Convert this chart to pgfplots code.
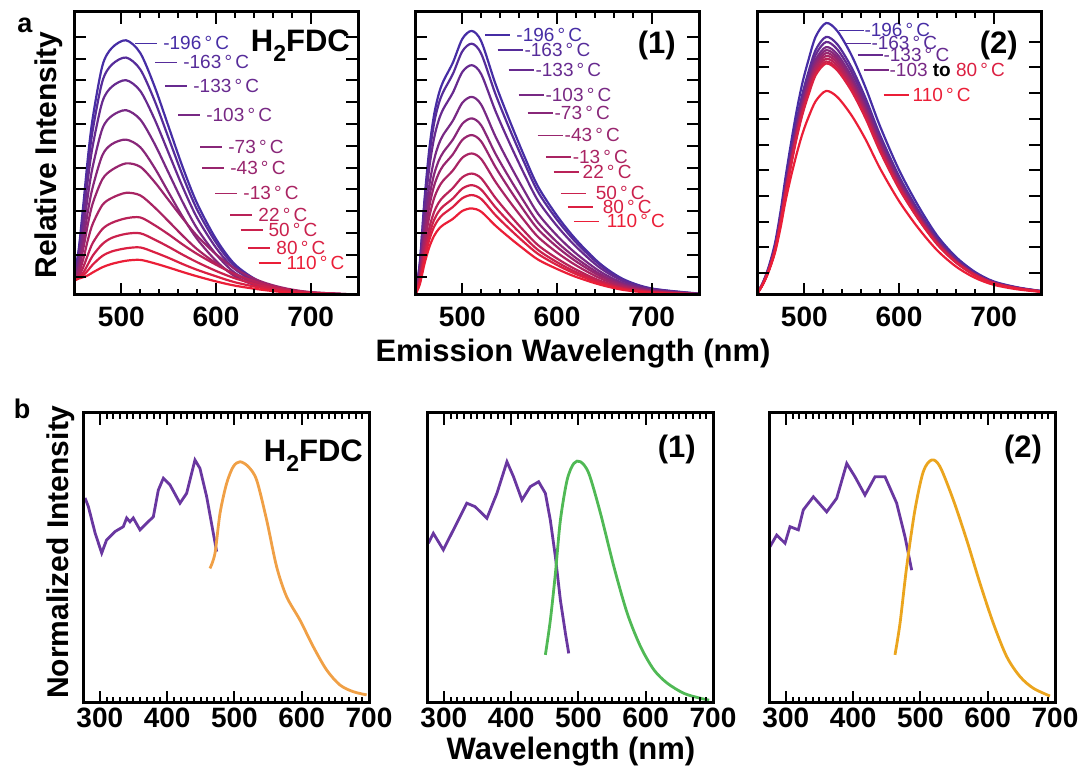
\documentclass[border=0pt]{standalone}
\usepackage{pgfplots}
\pgfplotsset{compat=1.18}
\usepackage{pgfplotstable}
\usepackage{fontspec}
\setmainfont{Liberation Sans}
\definecolor{cold}{RGB}{70,45,165}
\definecolor{hot}{RGB}{235,30,55}
\colorlet{c0}{cold}
\colorlet{c1}{hot!10!cold}
\colorlet{c2}{hot!20!cold}
\colorlet{c3}{hot!30!cold}
\colorlet{c4}{hot!40!cold}
\colorlet{c5}{hot!50!cold}
\colorlet{c6}{hot!60!cold}
\colorlet{c7}{hot!70!cold}
\colorlet{c8}{hot!80!cold}
\colorlet{c9}{hot!90!cold}
\colorlet{c10}{hot}
\definecolor{exc}{RGB}{105,55,160}
\definecolor{orA}{RGB}{240,160,70}
\definecolor{grB}{RGB}{80,185,85}
\definecolor{goC}{RGB}{235,165,30}
\newcommand{\labfont}{\fontsize{19}{19}\selectfont}
\newcommand{\ticfont}{\bfseries\fontsize{28}{28}\selectfont}
\newcommand{\panfont}{\bfseries\fontsize{31}{31}\selectfont}
\newcommand{\lab}[6]{\node[anchor=west,inner sep=0pt,text=#3,font=\labfont] at (axis cs:#1,#2) {\rule[0.3em]{#4}{1.4pt}\hspace{#5}#6};}
\newcommand{\HFDC}{H\raisebox{-0.32em}{\fontsize{23}{23}\selectfont 2}FDC}

\pgfplotstableread{
x   t0   t1   t2   t3   t4   t5   t6   t7   t8   t9   t10
450 6.3  6.0  6.0  6.0  5.8  5.5  5.0  5.0  5.0  5.0  5.0
455 16.2 15.1 13.7 11.8 9.9  9.0  7.5  6.6  6.2  6.0  5.8
460 32.4 30.2 27.3 23.5 19.8 16.7 13.0 10.0 8.0  7.0  6.3
465 49.5 46.1 41.7 35.9 30.2 25.6 19.9 14.5 11.0 8.8  7.0
470 63.0 58.7 53.1 45.7 38.4 32.6 25.3 18.5 14.0 10.8 8.0
480 81.0 75.5 68.3 58.8 49.4 40.9 31.8 23.3 18.0 13.8 9.8
490 87.3 81.4 73.6 63.3 53.3 44.2 34.3 25.5 20.2 15.4 11.0
505 90.0 83.9 75.9 65.3 54.9 46.5 36.1 27.1 21.6 16.5 12.1
520 85.5 79.7 72.1 62.0 52.2 45.3 35.2 27.4 21.8 16.8 12.4
535 73.8 68.8 62.2 53.5 45.0 40.0 31.0 24.7 19.6 15.1 11.2
550 59.4 55.4 50.1 43.1 36.2 33.5 26.0 21.4 17.0 13.1 9.7
565 45.0 42.0 38.0 32.7 27.5 27.0 20.9 17.8 14.2 10.9 8.1
580 32.4 30.2 27.3 23.5 19.8 20.9 16.2 14.5 11.6 8.9  6.6
600 19.8 18.5 16.7 14.4 12.1 14.4 11.2 10.7 8.5  6.6  4.8
620 10.8 10.1 9.1  7.8  6.6  9.3  7.2  7.4  5.9  4.5  3.3
645 4.95 4.6  4.2  3.6  3.0  5.1  4.0  4.4  3.5  2.7  2.0
670 2.16 2.0  1.8  1.6  1.3  2.6  2.0  2.3  1.9  1.4  1.05
700 0.81 0.76 0.68 0.59 0.49 1.0  0.8  0.96 0.76 0.59 0.43
750 0.09 0.08 0.08 0.07 0.05 0.14 0.1  0.14 0.11 0.08 0.06
}\taba

\pgfplotstableread{
x   t0   t1   t2   t3   t4   t5   t6   t7   t8   t9   t10
450 0    0    0    0    0    0    0    0    0    0    0
455 11.2 10.7 9.7  8.4  7.5  6.8  6.0  5.1  4.7  4.2  3.7
460 33.6 32.0 29.2 25.2 22.5 20.3 18.0 15.4 14.0 12.7 11.0
465 51.3 48.8 44.7 38.5 34.3 31.1 27.5 23.6 21.3 19.4 16.8
470 63.4 60.4 55.2 47.6 42.4 38.4 34.0 29.2 26.4 24.0 20.8
475 70.9 67.5 61.7 53.2 47.4 42.9 38.0 32.6 29.5 26.8 23.3
480 75.6 71.9 65.8 56.7 50.5 45.8 40.5 34.7 31.4 28.6 24.8
490 82.1 78.1 71.5 61.6 54.9 49.7 44.0 37.8 34.1 31.1 26.9
500 90.5 86.1 78.8 67.9 60.5 54.8 48.5 41.6 37.6 34.2 29.7
510 93.3 88.8 81.2 70.0 62.4 56.5 50.0 42.9 38.8 35.3 30.6
520 89.6 85.2 78.0 67.2 59.9 54.2 48.0 41.2 37.2 33.9 29.4
535 74.6 71.0 65.0 56.0 49.9 45.2 40.0 34.3 31.0 28.2 24.5
550 61.6 58.6 53.6 46.2 41.2 37.3 33.0 28.3 25.6 23.3 20.2
565 49.4 47.1 43.0 37.1 33.1 29.9 26.5 22.7 20.6 18.7 16.2
580 38.3 36.4 33.3 28.7 25.6 23.2 20.5 17.6 15.9 14.5 12.5
600 28.0 26.6 24.4 21.0 18.7 17.0 15.0 12.9 11.6 10.6 9.2
620 19.6 18.6 17.1 14.7 13.1 11.9 10.5 9.0  8.1  7.4  6.4
645 11.2 10.7 9.7  8.4  7.5  6.8  6.0  5.1  4.7  4.2  3.7
670 5.6  5.3  4.9  4.2  3.7  3.4  3.0  2.6  2.3  2.1  1.8
700 2.3  2.2  2.0  1.8  1.6  1.4  1.3  1.1  1.0  0.9  0.8
750 0.5  0.4  0.4  0.4  0.3  0.3  0.3  0.2  0.2  0.2  0.2
}\tabb

\pgfplotstableread{
x   t0   t1   t2   t3   t4   t5   t6   t7   t8   t9   t10
450 0.5  0.5  0.4  0.4  0.4  0.4  0.4  0.4  0.4  0.4  0.4
456 4.3  4.1  4.0  3.9  3.9  3.8  3.8  3.8  3.7  3.7  3.6
462 9.6  9.1  8.9  8.8  8.7  8.6  8.5  8.4  8.3  8.2  8.0
469 18.3 17.3 17.0 16.6 16.4 16.2 16.1 15.9 15.7 15.5 15.0
475 29.8 28.3 27.7 27.2 26.8 26.5 26.2 25.9 25.6 25.4 24.0
480 41.3 39.2 38.4 37.7 37.2 36.8 36.3 35.9 35.5 35.2 33.0
486 53.8 51.1 50.1 49.1 48.4 47.9 47.3 46.8 46.2 45.8 42.0
492 65.3 62.0 60.8 59.6 58.8 58.1 57.5 56.8 56.1 55.6 50.0
498 75.0 71.1 69.7 68.3 67.5 66.7 65.9 65.1 64.4 63.8 57.0
504 82.6 78.4 76.9 75.3 74.4 73.5 72.7 71.8 71.0 70.3 62.5
512 91.3 86.6 84.9 83.2 82.2 81.2 80.3 79.3 78.4 77.7 68.5
523 96.1 91.2 89.4 87.6 86.5 85.5 84.5 83.5 82.5 81.8 72.1
535 93.2 88.5 86.7 85.0 83.9 82.9 82.0 81.0 80.0 79.3 69.9
550 84.6 80.3 78.7 77.1 76.1 75.2 74.4 73.5 72.6 72.0 63.4
565 73.0 69.3 67.9 66.6 65.7 65.0 64.2 63.5 62.7 62.2 54.8
580 59.6 56.5 55.4 54.3 53.6 53.0 52.4 51.8 51.2 50.7 44.7
600 44.2 42.0 41.1 40.3 39.8 39.3 38.9 38.4 38.0 37.6 33.2
620 31.7 30.1 29.5 28.9 28.5 28.2 27.9 27.6 27.2 27.0 23.8
640 21.1 20.1 19.7 19.3 19.0 18.8 18.6 18.4 18.2 18.0 15.9
660 13.5 12.8 12.5 12.3 12.1 12.0 11.8 11.7 11.6 11.5 10.1
680 8.2  7.8  7.6  7.4  7.4  7.3  7.2  7.1  7.0  7.0  6.1
700 4.8  4.6  4.5  4.4  4.3  4.3  4.2  4.2  4.1  4.1  3.6
725 2.7  2.6  2.5  2.5  2.4  2.4  2.4  2.3  2.3  2.3  2.0
750 1.4  1.4  1.3  1.3  1.3  1.3  1.3  1.3  1.2  1.2  1.1
}\tabc

\pgfplotsset{
  base/.style={scale only axis, anchor=south west, axis on top, clip mode=individual,
    axis line style={line width=3pt},
    tick style={line width=2pt, black},
    major tick length=12pt, minor tick length=6pt, tick align=inside,
    /pgf/number format/assume math mode=true,
    xticklabel style={font=\ticfont, inner sep=0pt, anchor=north},
    yticklabels={}, ymin=0, ymax=100, no markers},
  toprow/.style={base, width=284pt, height=283pt, xmin=450, xmax=750,
    xtick={500,600,700}, xticklabels={500,600,700}, minor x tick num=4,
    xticklabel style={yshift=-12pt},
    every axis plot/.append style={line width=2.2pt, smooth}},
  botrow/.style={base, width=286pt, height=290pt, xmin=275, xmax=700,
    xtick={300,400,500,600,700}, xticklabels={300,400,500,600,700}, minor x tick num=9,
    ytick=\empty, xticklabel style={yshift=-5pt},
    every axis plot/.append style={line width=2.8pt}},
}

\begin{document}
\begin{tikzpicture}
\useasboundingbox (0,0) rectangle (1084pt,767pt);

% ---------- a1 ----------
\begin{axis}[toprow, at={(74pt,472pt)},
  ytick={6.5,14.2,21.9,29.6,37.3,45,52.7,60.4,68.1,75.8,83.5,91.2}]
\addplot[c0] table[x=x,y=t0]{\taba};
\addplot[c1] table[x=x,y=t1]{\taba};
\addplot[c2] table[x=x,y=t2]{\taba};
\addplot[c3] table[x=x,y=t3]{\taba};
\addplot[c4] table[x=x,y=t4]{\taba};
\addplot[c5] table[x=x,y=t5]{\taba};
\addplot[c6] table[x=x,y=t6]{\taba};
\addplot[c7] table[x=x,y=t7]{\taba};
\addplot[c8] table[x=x,y=t8]{\taba};
\addplot[c9] table[x=x,y=t9]{\taba};
\addplot[c10] table[x=x,y=t10]{\taba};
\lab{514.6}{89.0}{c0}{22pt}{6pt}{-196\,°\,C}
\lab{535.7}{82.3}{c1}{22pt}{6pt}{-163\,°\,C}
\lab{546.3}{73.9}{c2}{22pt}{6pt}{-133\,°\,C}
\lab{560.0}{63.6}{c3}{22pt}{6pt}{-103\,°\,C}
\lab{583.3}{52.3}{c4}{22pt}{6pt}{-73\,°\,C}
\lab{585.4}{44.9}{c5}{22pt}{6pt}{-43\,°\,C}
\lab{599.2}{36.0}{c6}{22pt}{6pt}{-13\,°\,C}
\lab{615.1}{28.3}{c7}{22pt}{6pt}{22\,°\,C}
\lab{625.7}{23.0}{c8}{22pt}{6pt}{50\,°\,C}
\lab{634.1}{16.6}{c9}{22pt}{6pt}{80\,°\,C}
\lab{644.7}{11.3}{c10}{22pt}{6pt}{110\,°\,C}
\node[anchor=north east, inner sep=0pt, font=\panfont] at (rel axis cs:0.972,0.936) {\HFDC};
\end{axis}

% ---------- a2 ----------
\begin{axis}[toprow, at={(415pt,472pt)},
  ytick={6.5,14.2,21.9,29.6,37.3,45,52.7,60.4,68.1,75.8,83.5,91.2}]
\addplot[c0] table[x=x,y=t0]{\tabb};
\addplot[c1] table[x=x,y=t1]{\tabb};
\addplot[c2] table[x=x,y=t2]{\tabb};
\addplot[c3] table[x=x,y=t3]{\tabb};
\addplot[c4] table[x=x,y=t4]{\tabb};
\addplot[c5] table[x=x,y=t5]{\tabb};
\addplot[c6] table[x=x,y=t6]{\tabb};
\addplot[c7] table[x=x,y=t7]{\tabb};
\addplot[c8] table[x=x,y=t8]{\tabb};
\addplot[c9] table[x=x,y=t9]{\tabb};
\addplot[c10] table[x=x,y=t10]{\tabb};
\lab{524.2}{91.9}{c0}{25pt}{6pt}{-196\,°\,C}
\lab{537.0}{86.6}{c1}{25pt}{2pt}{-163\,°\,C}
\lab{548.6}{79.5}{c2}{25pt}{2pt}{-133\,°\,C}
\lab{559.2}{70.7}{c3}{25pt}{2pt}{-103\,°\,C}
\lab{568.8}{64.3}{c4}{25pt}{2pt}{-73\,°\,C}
\lab{579.4}{56.5}{c5}{25pt}{2pt}{-43\,°\,C}
\lab{587.9}{48.8}{c6}{25pt}{2pt}{-13\,°\,C}
\lab{596.3}{43.5}{c7}{25pt}{4pt}{22\,°\,C}
\lab{603.8}{36.0}{c8}{25pt}{10pt}{50\,°\,C}
\lab{611.2}{31.1}{c9}{25pt}{10pt}{80\,°\,C}
\lab{617.6}{26.1}{c10}{25pt}{8pt}{110\,°\,C}
\node[anchor=north east, inner sep=0pt, font=\panfont] at (rel axis cs:0.919,0.935) {(1)};
\end{axis}

% ---------- a3 ----------
\begin{axis}[toprow, at={(757pt,472pt)},
  ytick={7.8,16.8,25.9,35,44,53.1,62.2,71.3,80.4,89.4}]
\addplot[c0] table[x=x,y=t0]{\tabc};
\addplot[c1] table[x=x,y=t1]{\tabc};
\addplot[c2] table[x=x,y=t2]{\tabc};
\addplot[c3] table[x=x,y=t3]{\tabc};
\addplot[c4] table[x=x,y=t4]{\tabc};
\addplot[c5] table[x=x,y=t5]{\tabc};
\addplot[c6] table[x=x,y=t6]{\tabc};
\addplot[c7] table[x=x,y=t7]{\tabc};
\addplot[c8] table[x=x,y=t8]{\tabc};
\addplot[c9] table[x=x,y=t9]{\tabc};
\addplot[c10] table[x=x,y=t10]{\tabc};
\lab{535.9}{93.6}{c0}{25pt}{1pt}{-196\,°\,C}
\lab{543.3}{89.0}{c1}{25pt}{1pt}{-163\,°\,C}
\lab{556.0}{84.8}{c2}{25pt}{1pt}{-133\,°\,C}
\lab{562.4}{79.5}{c3}{25pt}{1pt}{-103 {\color{black}\bfseries to} {\color{c9}80\,°\,C}}
\lab{583.6}{70.7}{c10}{25pt}{4pt}{110\,°\,C}
\node[anchor=north east, inner sep=0pt, font=\panfont] at (rel axis cs:0.919,0.935) {(2)};
\end{axis}

% ---------- b1 ----------
\begin{axis}[botrow, at={(83pt,64pt)}]
\addplot[exc] coordinates {(278,70.7) (283,67.7) (293,58.6) (302.8,51.7) (310,56.2) (322.5,59.1) (334.9,60.8) (339.9,63.8) (344.8,62.5) (349.7,63.8) (359.7,59.7) (369.6,62.0) (379.5,64.2) (386.9,73.4) (394.4,77.5) (404.3,75.2) (419.1,68.9) (429,72.3) (441.4,83.8) (448.8,80.9) (458.8,71.1) (473.6,52.2)};
\addplot[orA, smooth] coordinates {(463.7,46.4) (471.1,51.6) (478.6,65.4) (488.4,75.7) (498.3,81.5) (508.3,83.2) (520.6,81.5) (533,76.9) (547.9,63.1) (562.7,47.0) (577.5,36.7) (597.4,28.6) (617.2,19.4) (637,11.4) (656.9,6.2) (676.6,3.9) (696.5,2.8)};
\node[anchor=north east, inner sep=0pt, font=\panfont] at (rel axis cs:0.979,0.907) {\HFDC};
\end{axis}

% ---------- b2 ----------
\begin{axis}[botrow, at={(427pt,64pt)}]
\addplot[exc] coordinates {(277,55.1) (284.4,58.5) (299.3,52.8) (314.2,59.7) (334.2,68.9) (346.5,67.7) (364,63.7) (378.9,72.3) (393.8,83.2) (403.6,78.0) (416.1,70.0) (428.5,74.6) (440.9,76.3) (450.9,72.3) (458.3,63.0) (465.8,50.4) (473.2,35.5) (480.7,24.0) (485.6,17.1)};
\addplot[grB, smooth] coordinates {(450.9,16.6) (458.3,28.6) (465.8,44.7) (473.2,63.0) (483.2,76.9) (493.1,82.6) (503,83.2) (515.4,79.2) (532.8,65.4) (552.7,47.0) (572.6,30.9) (592.4,19.4) (612.3,11.4) (632.2,6.8) (657,3.3) (681.9,1.6) (694.3,1.0)};
\node[anchor=north east, inner sep=0pt, font=\panfont] at (rel axis cs:0.94,0.924) {(1)};
\end{axis}

% ---------- b3 ----------
\begin{axis}[botrow, at={(769pt,64pt)}]
\addplot[exc] coordinates {(276.5,53.9) (286.4,57.9) (298.8,55.1) (306.2,60.8) (318.6,59.7) (326,66.6) (340.9,71.1) (360.7,65.9) (375.6,70.6) (390.5,82.6) (402.8,78.0) (417.6,71.7) (432.5,78.0) (447.4,78.0) (464.7,68.9) (477.1,57.3) (487,45.8)};
\addplot[goC, smooth] coordinates {(462.2,16.6) (469.7,27.5) (479.6,47.0) (491.9,66.6) (504.3,79.8) (516.7,83.8) (529.1,81.5) (548.9,70.0) (568.8,56.2) (588.5,41.3) (608.3,27.5) (628.2,16.0) (648,9.1) (667.7,5.1) (692.5,2.4)};
\node[anchor=north east, inner sep=0pt, font=\panfont] at (rel axis cs:0.955,0.924) {(2)};
\end{axis}

% ---------- shared labels ----------
\node[rotate=90, anchor=base, font=\bfseries\fontsize{30}{30}\selectfont] at (57pt,612pt) {Relative Intensity};
\node[anchor=base, font=\bfseries\fontsize{31}{31}\selectfont] at (573pt,405pt) {Emission Wavelength (nm)};
\node[rotate=90, anchor=base, font=\bfseries\fontsize{30}{30}\selectfont] at (68pt,215pt) {Normalized Intensity};
\node[anchor=base, font=\bfseries\fontsize{31}{31}\selectfont] at (571pt,7pt) {Wavelength (nm)};
\node[font=\bfseries\fontsize{27}{27}\selectfont] at (25pt,742pt) {a};
\node[font=\bfseries\fontsize{27}{27}\selectfont] at (22pt,358pt) {b};
\end{tikzpicture}
\end{document}
